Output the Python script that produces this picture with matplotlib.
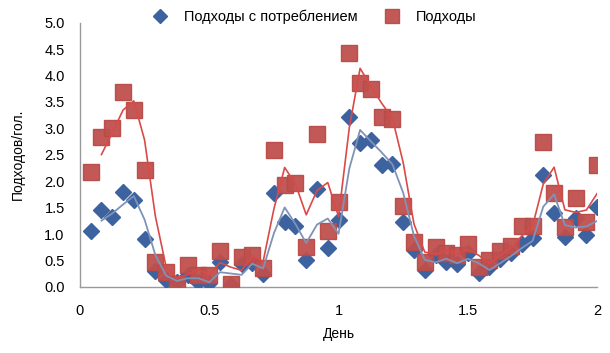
#!/usr/bin/env python3
"""
Visits per head over two days: scatter plus 2-point moving average lines.
"""

import numpy as np
import pandas as pd
import matplotlib
matplotlib.use('Agg')
import matplotlib.pyplot as plt

plt.rcParams['font.family'] = ['Liberation Sans', 'DejaVu Sans']

# hourly readings over two days (x = hour / 24)
hours = np.arange(1, 49)
day = hours / 24.0

visits = [2.18, 2.83, 3.00, 3.69, 3.35, 2.21, 0.47, 0.29, 0.05, 0.42,
          0.23, 0.23, 0.69, 0.06, 0.57, 0.60, 0.36, 2.59, 1.93, 1.97,
          0.76, 2.89, 1.06, 1.61, 4.42, 3.85, 3.74, 3.21, 3.17, 1.53,
          0.85, 0.47, 0.76, 0.64, 0.60, 0.82, 0.38, 0.51, 0.68, 0.78,
          1.15, 1.15, 2.75, 1.78, 1.14, 1.68, 1.23, 2.31]

visits_eating = [1.05, 1.46, 1.32, 1.80, 1.64, 0.91, 0.30, 0.13, 0.10, 0.23,
                 0.10, 0.08, 0.48, 0.03, 0.43, 0.45, 0.25, 1.78, 1.23, 1.15,
                 0.51, 1.85, 0.74, 1.27, 3.21, 2.73, 2.78, 2.31, 2.33, 1.23,
                 0.70, 0.33, 0.60, 0.47, 0.43, 0.64, 0.26, 0.38, 0.52, 0.65,
                 0.82, 0.92, 2.12, 1.39, 0.95, 1.30, 0.99, 1.51]

x_ticks = [0, 0.5, 1, 1.5, 2]
x_tick_labels = ['0', '0.5', '1', '1.5', '2']
y_ticks = np.arange(0, 5.01, 0.5)

BLUE = '#3d62a0'
RED = '#c0504d'

fig = plt.figure(figsize=(6.10, 3.53), dpi=100)
ax = fig.add_axes([0.131, 0.187, 0.848, 0.749])

ax.plot(day, visits_eating, linestyle='none', marker='D', markersize=8.5,
        color=BLUE, markeredgecolor=BLUE, label='Подходы с потреблением', zorder=3)
ax.plot(day, visits, linestyle='none', marker='s', markersize=12,
        color=RED, markeredgecolor='#b84a47', alpha=0.95, label='Подходы', zorder=4)

# Excel-style moving average trendlines (period 2)
ma_eat = pd.Series(visits_eating).rolling(2).mean()
ma_vis = pd.Series(visits).rolling(2).mean()
ax.plot(day, ma_eat, color='#7f93b8', linewidth=1.3, zorder=5)
ax.plot(day, ma_vis, color='#d94a48', linewidth=1.2, zorder=6)

ax.set_xlim(0, 2)
ax.set_ylim(0, 5)
ax.set_xticks(x_ticks)
ax.set_xticklabels(x_tick_labels)
ax.set_yticks(y_ticks)
ax.set_yticklabels([f'{v:.1f}' for v in y_ticks])
ax.tick_params(axis='both', length=0, labelsize=10.5)
ax.tick_params(axis='x', pad=12)
ax.tick_params(axis='y', pad=11)

for side in ['top', 'right']:
    ax.spines[side].set_visible(False)
for side in ['left', 'bottom']:
    ax.spines[side].set_color('#9a9a9a')
    ax.spines[side].set_linewidth(1.0)

ax.set_xlabel('День', fontsize=10, labelpad=7)
ax.set_ylabel('Подходов/гол.', fontsize=10, labelpad=14)

fig.legend(loc='center', bbox_to_anchor=(0.51, 0.952), ncol=2, frameon=False,
           fontsize=10.5, handletextpad=0.6, columnspacing=1.4, markerscale=0.8)

fig.savefig('out.png', dpi=100)
plt.close(fig)
